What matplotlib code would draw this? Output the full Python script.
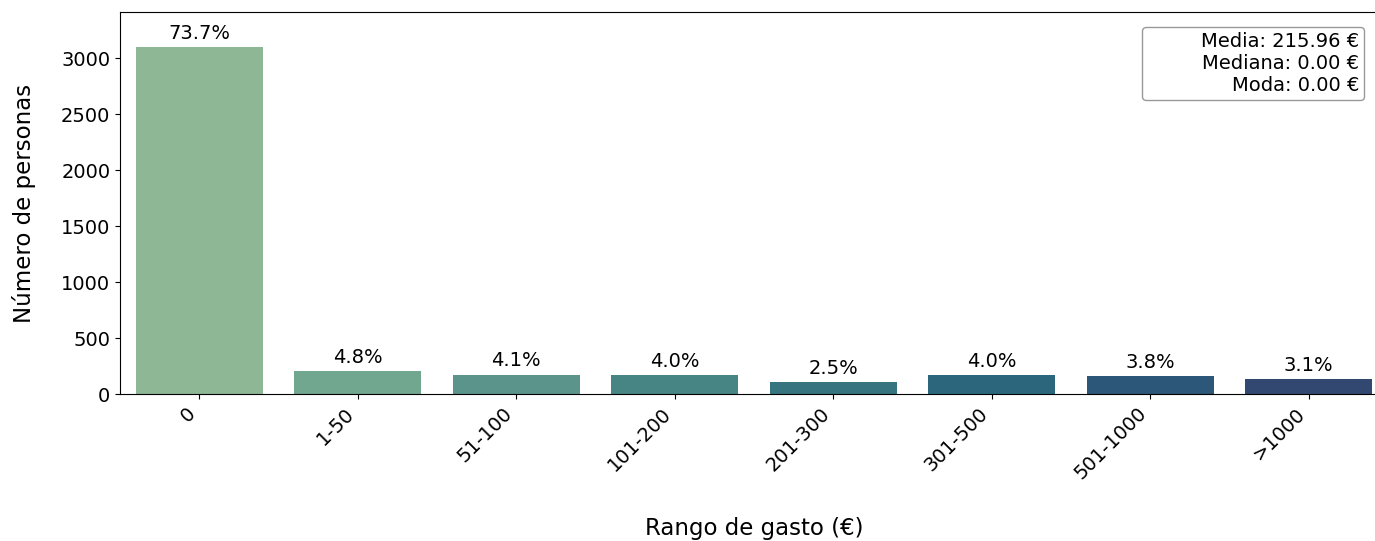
import matplotlib
matplotlib.use("Agg")
import matplotlib.pyplot as plt
from matplotlib.lines import Line2D
import seaborn as sns
import numpy as np

categories = ["0", "1-50", "51-100", "101-200", "201-300", "301-500", "501-1000", ">1000"]
counts = [3104, 202, 173, 168, 105, 168, 160, 131]
stats_lines = ["Media: 215.96 €", "Mediana: 0.00 €", "Moda: 0.00 €"]

total = sum(counts)
colors = [sns.desaturate(c, 0.75) for c in sns.color_palette("crest", len(categories))]

fig = plt.figure(figsize=(13.75, 5.41), dpi=100)
ax = fig.add_axes([0.0873, 0.2717, 1.0095 - 0.0873, 0.9778 - 0.2717])

x = np.arange(len(categories))
bars = ax.bar(x, counts, width=0.8, color=colors)
ax.set_xlim(-0.5, len(categories) - 0.5)
ax.set_ylim(0, max(counts) * 1.1)

for b, c in zip(bars, counts):
    ax.annotate(f"{100 * c / total:.1f}%", (b.get_x() + b.get_width() / 2, c),
                xytext=(0, 3), textcoords="offset points",
                ha="center", va="bottom", fontsize=14)

ax.set_xticks(x)
ax.set_xticklabels(categories, rotation=45, ha="right", fontsize=14)
ax.tick_params(axis="y", labelsize=14)
ax.set_ylabel("Número de personas", fontsize=16.5, labelpad=18)
ax.set_xlabel("Rango de gasto (€)", fontsize=16.5, labelpad=24)

leg = ax.legend([Line2D([], [], alpha=0)], ["\n".join(stats_lines)],
                loc="upper right", bbox_to_anchor=(0.981, 0.961), borderaxespad=0,
                fontsize=14, handlelength=2.0, handletextpad=0.8,
                borderpad=0.25, edgecolor="#999999", framealpha=1)
for t in leg.get_texts():
    t.set_multialignment("right")

fig.savefig("out.png", dpi=100)
